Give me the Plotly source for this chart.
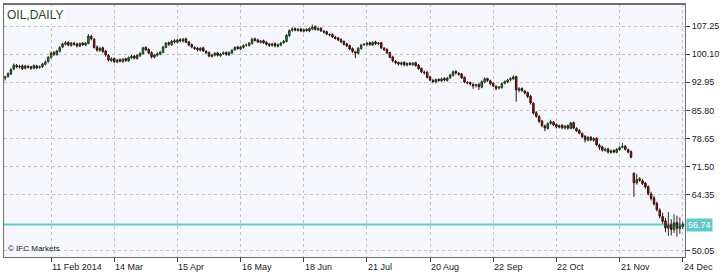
import plotly.graph_objects as go

# ---------------- data ----------------
open_ = [
94.0, 94.4, 95.0, 96.3, 97.2, 96.8, 97.1, 96.5, 97.0, 96.9,
96.5, 97.1, 96.7, 96.9, 97.5, 98.2, 99.2, 100.5, 100.0, 100.8,
101.9, 102.6, 103.1, 102.3, 102.9, 102.7, 102.1, 102.9, 102.4, 102.8,
104.6, 103.9, 101.9, 101.0, 101.7, 100.9, 99.8, 98.5, 99.0, 98.1,
98.7, 98.2, 98.9, 98.4, 99.1, 99.6, 99.0, 99.7, 100.2, 101.8,
101.3, 100.5, 99.3, 99.8, 100.1, 100.5, 101.8, 103.0, 102.5, 103.5,
103.1, 103.8, 103.4, 104.0, 103.2, 102.5, 101.8, 101.6, 101.1, 101.7,
100.8, 100.5, 99.5, 99.8, 100.4, 99.7, 100.2, 100.5, 99.9, 100.4,
101.2, 101.9, 101.4, 101.8, 102.4, 102.3, 102.8, 104.0, 103.7, 103.1,
103.5, 103.1, 102.7, 102.3, 102.8, 102.1, 102.4, 103.0, 103.3, 104.8,
106.2, 106.6, 106.1, 106.5, 105.9, 106.4, 106.0, 106.5, 107.1, 106.3,
106.7, 105.9, 105.8, 105.1, 105.1, 104.4, 104.2, 103.8, 103.3, 102.7,
102.3, 101.5, 100.7, 100.3, 101.5, 102.5, 102.5, 103.0, 102.4, 103.2,
102.7, 103.0, 101.6, 101.3, 100.5, 99.4, 98.3, 98.0, 97.5, 98.0,
97.3, 97.8, 97.4, 97.9, 97.3, 96.5, 95.5, 95.5, 94.3, 93.4,
93.0, 93.7, 93.3, 93.9, 93.4, 94.1, 94.7, 95.7, 95.2, 95.1,
94.2, 92.9, 92.9, 92.4, 92.1, 92.4, 91.7, 93.0, 93.9, 93.3,
92.7, 91.9, 91.5, 91.6, 92.7, 93.0, 93.6, 93.8, 94.4, 90.9,
91.4, 90.7, 90.3, 89.4, 87.6, 85.2, 84.2, 83.1, 81.8, 81.2,
82.5, 82.8, 82.2, 81.5, 82.0, 81.3, 81.9, 81.2, 82.7, 81.2,
80.7, 79.9, 79.2, 78.2, 79.0, 78.2, 78.7, 76.9, 76.5, 75.6,
76.0, 75.1, 75.6, 75.1, 75.8, 76.4, 76.7, 75.8, 75.3, 69.8,
67.3, 68.4, 67.9, 67.3, 66.4, 64.5, 63.5, 62.1, 60.4, 58.8,
57.7, 55.8, 56.7, 55.4, 57.3, 55.7, 56.2,
]
high = [
94.6, 95.5, 96.5, 97.7, 97.6, 97.4, 97.5, 97.4, 97.3, 97.1,
97.5, 97.4, 97.2, 97.9, 98.5, 99.6, 100.8, 100.9, 101.2, 102.1,
103.0, 103.4, 103.3, 103.2, 103.2, 103.0, 103.1, 103.2, 103.2, 105.2,
105.0, 104.2, 102.3, 101.9, 102.0, 101.2, 100.1, 99.3, 99.3, 98.9,
99.0, 99.1, 99.2, 99.5, 99.9, 99.9, 100.1, 100.6, 102.0, 102.1,
101.6, 100.8, 100.2, 100.6, 100.9, 102.2, 103.2, 103.3, 103.7, 103.9,
104.0, 104.1, 104.2, 104.3, 103.4, 102.8, 102.1, 101.9, 101.9, 102.0,
101.1, 100.8, 100.2, 100.6, 100.7, 100.4, 100.8, 100.8, 100.8, 101.4,
102.1, 102.2, 102.2, 102.6, 102.8, 103.2, 104.3, 104.3, 104.0, 103.7,
103.8, 103.4, 102.9, 103.0, 103.1, 102.8, 103.2, 103.7, 105.2, 106.4,
106.9, 106.9, 106.8, 106.8, 106.6, 106.7, 106.9, 107.6, 107.4, 106.9,
106.9, 106.2, 106.1, 105.4, 105.4, 104.8, 104.5, 104.1, 103.6, 103.0,
102.5, 101.8, 101.0, 101.9, 102.7, 102.9, 103.2, 103.3, 103.4, 103.5,
103.2, 103.2, 101.9, 101.6, 100.7, 99.7, 98.6, 98.2, 98.2, 98.3,
98.0, 98.1, 98.1, 98.2, 97.6, 96.7, 95.9, 95.8, 94.6, 93.8,
93.9, 93.9, 94.1, 94.2, 94.3, 95.1, 95.9, 96.0, 95.5, 95.3,
94.4, 93.2, 93.1, 92.7, 92.6, 92.7, 93.4, 94.2, 94.1, 93.6,
92.9, 92.2, 92.0, 92.9, 93.4, 93.8, 94.2, 94.7, 94.6, 91.7,
91.6, 91.0, 90.6, 89.7, 87.9, 85.6, 84.6, 83.4, 82.2, 82.8,
83.4, 83.1, 82.5, 82.2, 82.3, 82.1, 82.2, 82.9, 82.9, 81.5,
81.0, 80.2, 79.5, 79.3, 79.2, 79.0, 79.0, 77.3, 76.8, 76.3,
76.3, 75.8, 75.9, 76.2, 76.7, 77.5, 77.0, 76.1, 75.6, 70.0,
69.6, 68.8, 68.3, 67.6, 66.7, 65.1, 64.0, 62.6, 60.9, 59.8,
58.4, 59.9, 58.1, 59.4, 59.0, 58.6, 57.4,
]
low = [
93.4, 94.1, 94.8, 96.0, 96.5, 96.4, 96.1, 96.2, 96.4, 96.1,
96.2, 96.3, 96.4, 96.6, 97.2, 97.9, 99.0, 99.6, 99.7, 100.5,
101.6, 102.3, 102.1, 102.0, 102.3, 101.8, 101.9, 102.2, 102.1, 102.6,
103.6, 101.5, 100.7, 100.7, 100.4, 99.5, 98.2, 98.1, 97.8, 97.8,
98.0, 97.9, 98.1, 98.1, 98.8, 98.7, 98.7, 99.4, 100.0, 100.9,
100.1, 99.0, 99.0, 99.5, 99.8, 100.3, 101.6, 102.2, 102.2, 102.8,
102.8, 103.1, 103.1, 102.9, 102.1, 101.6, 101.2, 100.8, 100.8, 100.6,
100.1, 99.3, 99.2, 99.5, 99.5, 99.4, 99.9, 99.7, 99.6, 100.1,
100.9, 101.2, 101.1, 101.5, 102.0, 102.0, 102.5, 103.3, 102.9, 102.8,
102.7, 102.3, 101.9, 102.0, 101.8, 101.8, 102.1, 102.7, 103.1, 104.5,
105.8, 105.9, 105.8, 105.7, 105.6, 105.8, 105.7, 106.2, 106.1, 106.0,
105.7, 105.3, 104.9, 104.6, 104.2, 103.8, 103.4, 102.9, 102.3, 101.9,
101.1, 100.4, 99.1, 100.1, 101.2, 102.2, 102.2, 102.2, 102.2, 102.4,
102.4, 101.4, 100.9, 100.1, 99.0, 98.0, 97.5, 97.2, 97.2, 97.0,
97.0, 97.2, 97.1, 96.9, 96.1, 95.3, 94.9, 93.9, 93.2, 92.7,
92.7, 93.1, 93.0, 93.2, 93.1, 93.8, 94.4, 94.9, 94.6, 93.8,
92.7, 92.4, 92.1, 91.3, 91.6, 91.0, 91.4, 92.7, 93.0, 92.2,
91.7, 90.9, 91.1, 91.3, 92.4, 92.7, 93.2, 93.5, 88.0, 90.4,
90.5, 89.9, 88.9, 87.3, 84.7, 83.9, 82.6, 81.5, 80.5, 80.9,
82.1, 81.8, 81.2, 81.2, 81.0, 81.0, 80.9, 81.0, 81.0, 80.3,
79.7, 78.8, 77.6, 77.9, 78.0, 77.8, 76.7, 75.7, 75.3, 75.3,
74.8, 74.8, 74.9, 74.9, 75.5, 76.1, 75.6, 74.9, 73.6, 63.8,
66.9, 67.6, 66.8, 65.9, 64.2, 62.9, 61.6, 60.1, 58.3, 57.0,
54.8, 53.9, 54.0, 54.6, 53.7, 54.4, 55.6,
]
close = [
94.3, 95.1, 96.2, 97.3, 96.9, 97.0, 96.4, 97.1, 96.8, 96.5,
97.2, 96.6, 96.9, 97.6, 98.1, 99.3, 100.4, 100.1, 100.9, 101.8,
102.7, 103.0, 102.4, 102.9, 102.6, 102.2, 102.8, 102.5, 102.9, 104.7,
104.0, 101.8, 101.1, 101.6, 100.8, 99.9, 98.6, 98.9, 98.2, 98.6,
98.3, 98.8, 98.5, 99.2, 99.5, 99.1, 99.8, 100.3, 101.7, 101.2,
100.4, 99.4, 99.9, 100.2, 100.6, 101.9, 102.9, 102.6, 103.4, 103.2,
103.7, 103.5, 103.9, 103.1, 102.4, 101.9, 101.5, 101.2, 101.6, 100.9,
100.4, 99.6, 99.9, 100.3, 99.8, 100.1, 100.4, 100.0, 100.5, 101.1,
101.8, 101.5, 101.9, 102.3, 102.4, 102.9, 103.9, 103.6, 103.2, 103.4,
103.0, 102.6, 102.4, 102.7, 102.2, 102.5, 102.9, 103.4, 104.9, 106.1,
106.5, 106.2, 106.4, 106.0, 106.3, 106.1, 106.6, 107.0, 106.4, 106.6,
106.0, 105.7, 105.2, 105.0, 104.5, 104.1, 103.7, 103.2, 102.6, 102.2,
101.4, 100.8, 100.4, 101.6, 102.4, 102.6, 102.9, 102.5, 103.1, 102.8,
102.9, 101.7, 101.2, 100.4, 99.3, 98.4, 97.9, 97.6, 97.9, 97.4,
97.7, 97.5, 97.8, 97.2, 96.4, 95.6, 95.4, 94.2, 93.5, 93.1,
93.6, 93.4, 93.8, 93.5, 94.0, 94.8, 95.6, 95.3, 95.0, 94.1,
93.0, 92.8, 92.5, 92.0, 92.3, 91.8, 93.1, 93.8, 93.4, 92.6,
92.0, 91.4, 91.7, 92.6, 93.1, 93.5, 93.9, 94.3, 91.0, 91.3,
90.8, 90.2, 89.3, 87.7, 85.1, 84.3, 83.0, 81.9, 81.3, 82.4,
82.9, 82.1, 81.6, 81.9, 81.4, 81.8, 81.3, 82.6, 81.3, 80.6,
80.0, 79.1, 78.3, 78.9, 78.3, 78.6, 77.0, 76.4, 75.7, 75.9,
75.2, 75.5, 75.2, 75.9, 76.3, 76.6, 75.9, 75.2, 73.9, 67.4,
68.2, 68.0, 67.2, 66.3, 64.6, 63.4, 62.0, 60.5, 58.9, 57.6,
55.9, 56.6, 55.5, 57.2, 55.8, 56.4, 56.74,
]
bar_index = list(range(len(close)))

date_tick_index = [16, 38, 60, 82, 104, 126, 148, 170, 192, 214, 236]
date_tick_labels = ["11 Feb 2014", "14 Mar", "15 Apr", "16 May", "18 Jun", "21 Jul",
                    "20 Aug", "22 Sep", "22 Oct", "21 Nov", "24 Dec"]
price_ticks = [50.05, 64.35, 71.50, 78.65, 85.80, 92.95, 100.10, 107.25]
last_price = 56.74
chart_title = "OIL,DAILY"
watermark = "© IFC Markets"

# ---------------- figure ----------------
TEAL = "#62C9C6"
FONT = "Liberation Sans, Arial, sans-serif"

fig = go.Figure()
fig.add_trace(go.Candlestick(
    x=bar_index, open=open_, high=high, low=low, close=close,
    increasing=dict(line=dict(color="#203a20", width=1), fillcolor="#1F9A2A"),
    decreasing=dict(line=dict(color="#3a1010", width=1), fillcolor="#B81414"),
    whiskerwidth=0, showlegend=False, hoverinfo="skip",
))

fig.add_shape(type="line", xref="paper", x0=0, x1=1, yref="y", y0=last_price, y1=last_price,
              line=dict(color=TEAL, width=2), layer="below")
# heavier top frame line like the source chart
fig.add_shape(type="line", xref="paper", x0=0, x1=1, yref="paper", y0=1, y1=1,
              line=dict(color="#6E6E6E", width=2))

annotations = []
for idx, lab in zip(date_tick_index, date_tick_labels):
    annotations.append(dict(x=idx, xref="x", y=0, yref="paper", yanchor="top", xanchor="left",
                            yshift=-3, xshift=-1, text=lab, showarrow=False,
                            font=dict(family=FONT, size=9, color="#202020")))
annotations.append(dict(x=1, xref="paper", y=last_price, yref="y", xanchor="left", yanchor="middle",
                        xshift=1, text=f"{last_price:.2f}", showarrow=False,
                        bgcolor=TEAL, borderpad=1,
                        font=dict(family=FONT, size=9, color="white")))
annotations.append(dict(x=0, xref="paper", y=1, yref="paper", xanchor="left", yanchor="top",
                        xshift=1, yshift=-2, text=chart_title, showarrow=False, bgcolor="white",
                        borderpad=1, font=dict(family=FONT, size=12, color="#1E4A1E")))
annotations.append(dict(x=0, xref="paper", y=0, yref="paper", xanchor="left", yanchor="bottom",
                        xshift=2, yshift=2, text=watermark, showarrow=False,
                        font=dict(family=FONT, size=8, color="#202020")))

fig.update_layout(
    width=725, height=272,
    margin=dict(l=4, r=40, t=4, b=15),
    paper_bgcolor="white", plot_bgcolor="#F6F7FC",
    boxgap=0.25,
    annotations=annotations,
    xaxis=dict(
        range=[-0.4, 236.8], rangeslider=dict(visible=False),
        tickvals=date_tick_index, showticklabels=False,
        ticks="outside", ticklen=4, tickcolor="#404040",
        showgrid=True, gridcolor="#C4C4C4", griddash="dot", gridwidth=1,
        showline=True, linecolor="#707070", linewidth=1, mirror=True,
        zeroline=False, fixedrange=True,
    ),
    yaxis=dict(
        side="right", range=[48.5, 112.85],
        tickvals=price_ticks, tickformat=".2f",
        ticks="outside", ticklen=4, tickcolor="#404040",
        tickfont=dict(family=FONT, size=9, color="#202020"),
        showgrid=True, gridcolor="#C4C4C4", griddash="dot", gridwidth=1,
        showline=True, linecolor="#707070", linewidth=1, mirror=True,
        zeroline=False, fixedrange=True,
    ),
)

fig.write_html("out.html")
